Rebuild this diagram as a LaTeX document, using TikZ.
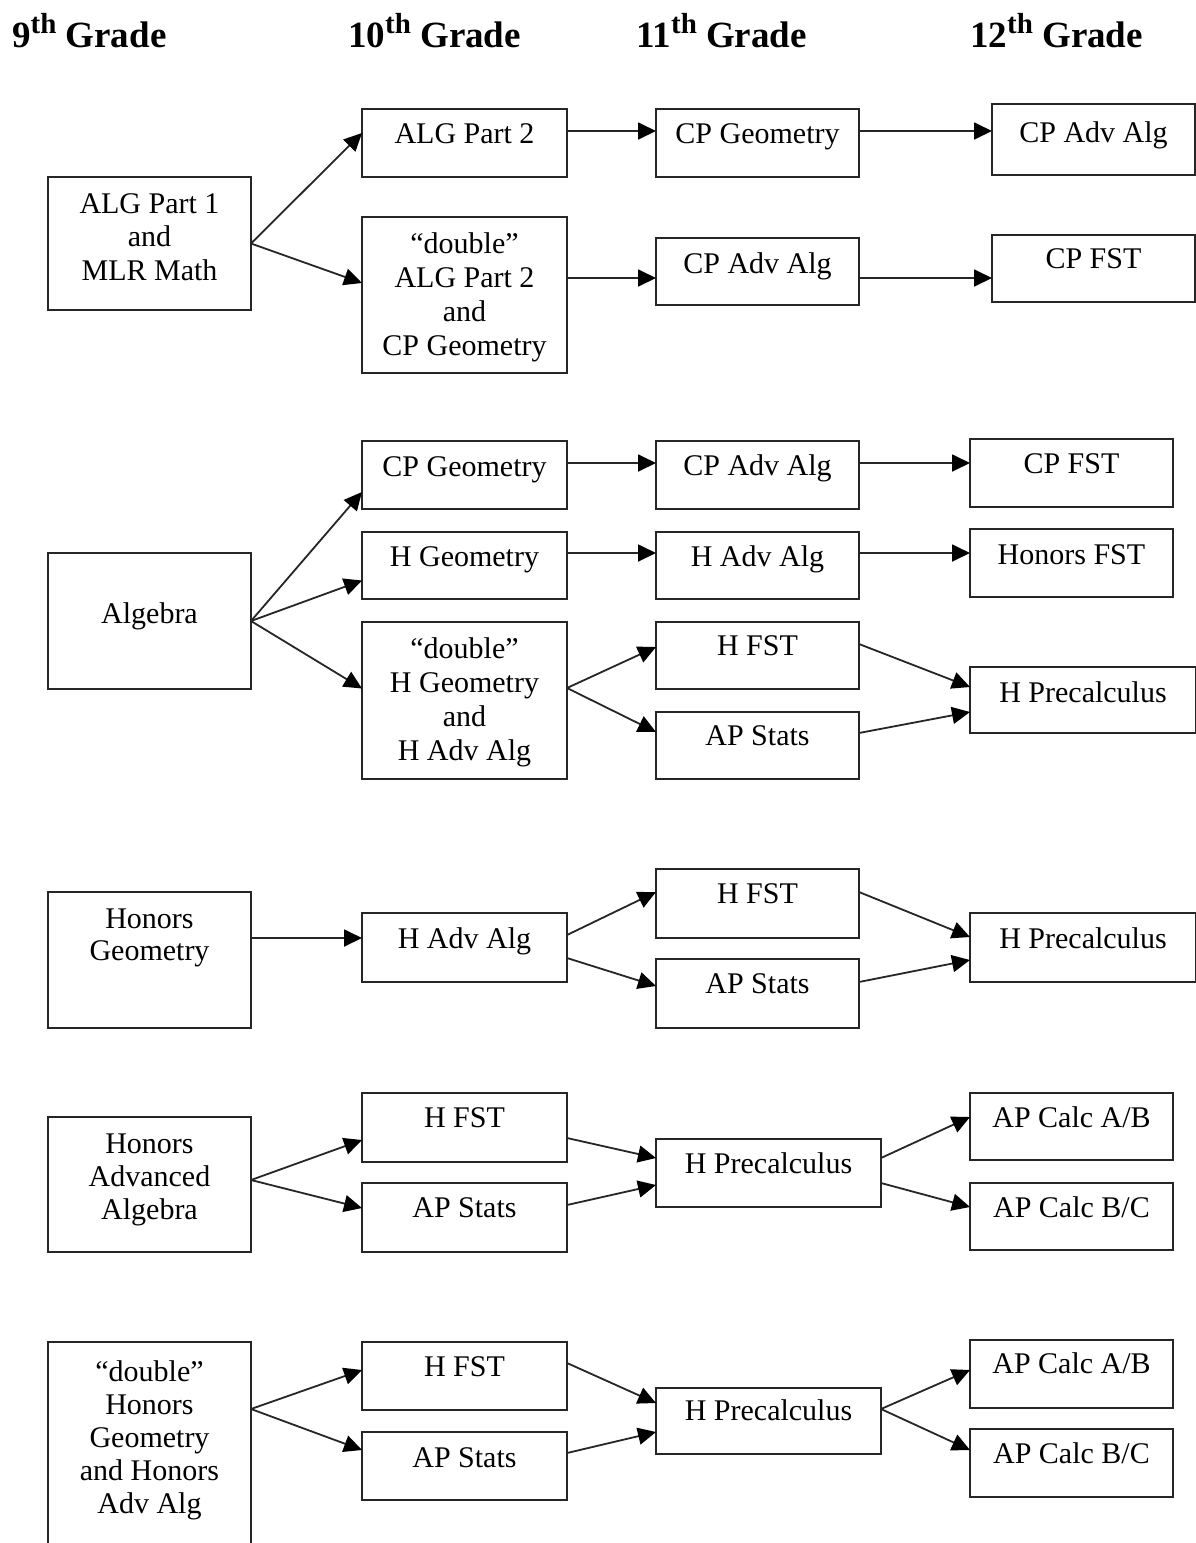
\documentclass[tikz,border=0pt]{standalone}
\usepackage{fontspec}
\setmainfont{Liberation Serif}
\usetikzlibrary{arrows.meta}
\tikzset{
  crs/.style={draw=black!85, line width=2pt, inner sep=0pt, outer sep=0pt, anchor=north west},
  arr/.style={line width=1.8pt, draw=black!85, -{Triangle[length=18pt,width=17pt,fill=black,color=black]}},
  hdr/.style={anchor=base west, inner sep=0pt, font=\fontsize{37}{40}\selectfont\bfseries}
}
% name, left x, top y, width, height, first baseline offset, text
\newcommand{\crsbox}[7]{\node[crs] (#1) at (#2,#3) {\parbox[t][#5pt][t]{#4pt}{\fontsize{30}{34}\selectfont\centering\rule{0pt}{#6pt}#7}};}
\newcommand{\thsup}{\raisebox{14pt}{\fontsize{29}{29}\selectfont th}}
\begin{document}
\begin{tikzpicture}[x=1pt,y=-1pt]
\useasboundingbox (0,0) rectangle (1196,1543);
\clip (0,0) rectangle (1196,1543);
\fill[white] (0,0) rectangle (1196,1543);

% headers
\node[hdr] (h9) at (12,47) {9\thsup\ Grade};
\node[hdr] (h10) at (348,47) {10\thsup\ Grade};
\node[hdr] (h11) at (636,47) {11\thsup\ Grade};
\node[hdr] (h12) at (970,47) {12\thsup\ Grade};

% group 1
\crsbox{ga}{48}{177}{203}{133}{36}{\baselineskip=33.5pt ALG Part 1\\and\\MLR Math}
\crsbox{gb}{362}{109}{205}{68}{34}{ALG Part 2}
\crsbox{gc}{362}{217}{205}{156}{36}{“double”\\ALG Part 2\\and\\CP Geometry}
\crsbox{gd}{656}{109}{203}{68}{34}{CP Geometry}
\crsbox{ge}{656}{238}{203}{67}{35}{CP Adv Alg}
\crsbox{gf}{992}{104}{203}{71}{38}{CP Adv Alg}
\crsbox{gg}{992}{235}{203}{67}{33}{CP FST}

\draw[arr] (ga.east) -- ([yshift=10pt]gb.west);
\draw[arr] (ga.east) -- ([yshift=12pt]gc.west);
\draw[arr] ([yshift=12pt]gb.east) -- ([yshift=12pt]gd.west);
\draw[arr] ([yshift=12pt]gd.east) -- ([yshift=8.5pt]gf.west);
\draw[arr] ([yshift=17pt]gc.east) -- ([yshift=-6.5pt]ge.west);
\draw[arr] ([yshift=-6.5pt]ge.east) -- ([yshift=-9.5pt]gg.west);

% group 2
\crsbox{ha}{48}{553}{203}{136}{70}{Algebra}
\crsbox{hb}{362}{441}{205}{68}{35}{CP Geometry}
\crsbox{hc}{362}{532}{205}{67}{34}{H Geometry}
\crsbox{hd}{362}{622}{205}{157}{36}{“double”\\H Geometry\\and\\H Adv Alg}
\crsbox{he}{656}{441}{203}{68}{34}{CP Adv Alg}
\crsbox{hf}{656}{532}{203}{67}{34}{H Adv Alg}
\crsbox{hg}{656}{622}{203}{67}{33}{H FST}
\crsbox{hh}{656}{712}{203}{67}{33}{AP Stats}
\crsbox{hi}{970}{439}{203}{68}{34}{CP FST}
\crsbox{hj}{970}{529}{203}{68}{35}{Honors FST}
\crsbox{hk}{970}{667}{226}{66}{35}{H Precalculus}

\draw[arr] (ha.east) -- ([yshift=-17pt]hb.west);
\draw[arr] (ha.east) -- ([yshift=-15pt]hc.west);
\draw[arr] (ha.east) -- ([yshift=12pt]hd.west);
\draw[arr] ([yshift=12pt]hb.east) -- ([yshift=12pt]he.west);
\draw[arr] ([yshift=12pt]he.east) -- ([yshift=10pt]hi.west);
\draw[arr] ([yshift=12.5pt]hc.east) -- ([yshift=12.5pt]hf.west);
\draw[arr] ([yshift=12.5pt]hf.east) -- ([yshift=10pt]hj.west);
\draw[arr] ([yshift=12.5pt]hd.east) -- ([yshift=8.5pt]hg.west);
\draw[arr] ([yshift=12.5pt]hd.east) -- ([yshift=13.5pt]hh.west);
\draw[arr] ([yshift=11.5pt]hg.east) -- ([yshift=13pt]hk.west);
\draw[arr] ([yshift=12.5pt]hh.east) -- ([yshift=-12pt]hk.west);

% group 3
\crsbox{ia}{48}{892}{203}{136}{36}{\baselineskip=32pt Honors\\Geometry}
\crsbox{ib}{362}{913}{205}{69}{35}{H Adv Alg}
\crsbox{ic}{656}{869}{203}{69}{34}{H FST}
\crsbox{id}{656}{959}{203}{69}{34}{AP Stats}
\crsbox{ie}{970}{913}{226}{69}{35}{H Precalculus}

\draw[arr] ([yshift=22pt]ia.east) -- ([yshift=9.5pt]ib.west);
\draw[arr] ([yshift=12.5pt]ib.east) -- ([yshift=11.5pt]ic.west);
\draw[arr] ([yshift=-10.5pt]ib.east) -- ([yshift=7.5pt]id.west);
\draw[arr] ([yshift=11.5pt]ic.east) -- ([yshift=10.5pt]ie.west);
\draw[arr] ([yshift=11.5pt]id.east) -- ([yshift=-12.5pt]ie.west);

% group 4
\crsbox{ja}{48}{1117}{203}{135}{36}{\baselineskip=33pt Honors\\Advanced\\Algebra}
\crsbox{jb}{362}{1093}{205}{69}{34}{H FST}
\crsbox{jc}{362}{1183}{205}{69}{34}{AP Stats}
\crsbox{jd}{656}{1139}{225}{68}{34}{H Precalculus}
\crsbox{je}{970}{1093}{203}{67}{34}{AP Calc A/B}
\crsbox{jf}{970}{1183}{203}{67}{34}{AP Calc B/C}

\draw[arr] ([yshift=4.5pt]ja.east) -- ([yshift=-12.5pt]jb.west);
\draw[arr] ([yshift=4.5pt]ja.east) -- ([yshift=9.5pt]jc.west);
\draw[arr] ([yshift=-10.5pt]jb.east) -- ([yshift=15pt]jd.west);
\draw[arr] ([yshift=12.5pt]jc.east) -- ([yshift=-12pt]jd.west);
\draw[arr] ([yshift=15pt]jd.east) -- ([yshift=9.5pt]je.west);
\draw[arr] ([yshift=-10pt]jd.east) -- ([yshift=9.5pt]jf.west);

% group 5
\crsbox{ka}{48}{1342}{203}{230}{39}{\baselineskip=33pt “double”\\Honors\\Geometry\\and Honors\\Adv Alg}
\crsbox{kb}{362}{1342}{205}{68}{34}{H FST}
\crsbox{kc}{362}{1432}{205}{68}{35}{AP Stats}
\crsbox{kd}{656}{1388}{225}{66}{32}{H Precalculus}
\crsbox{ke}{970}{1340}{203}{68}{33}{AP Calc A/B}
\crsbox{kf}{970}{1429}{203}{68}{34}{AP Calc B/C}

\draw[arr] ([yshift=-67pt]ka.north east) -- ([yshift=6pt]kb.west);
\draw[arr] ([yshift=-67pt]ka.north east) -- ([yshift=16pt]kc.west);
\draw[arr] ([yshift=13pt]kb.east) -- ([yshift=18pt]kd.west);
\draw[arr] ([yshift=13pt]kc.east) -- ([yshift=-11pt]kd.west);
\draw[arr] ([yshift=12pt]kd.east) -- ([yshift=4pt]ke.west);
\draw[arr] ([yshift=12pt]kd.east) -- ([yshift=13pt]kf.west);
\end{tikzpicture}
\end{document}
